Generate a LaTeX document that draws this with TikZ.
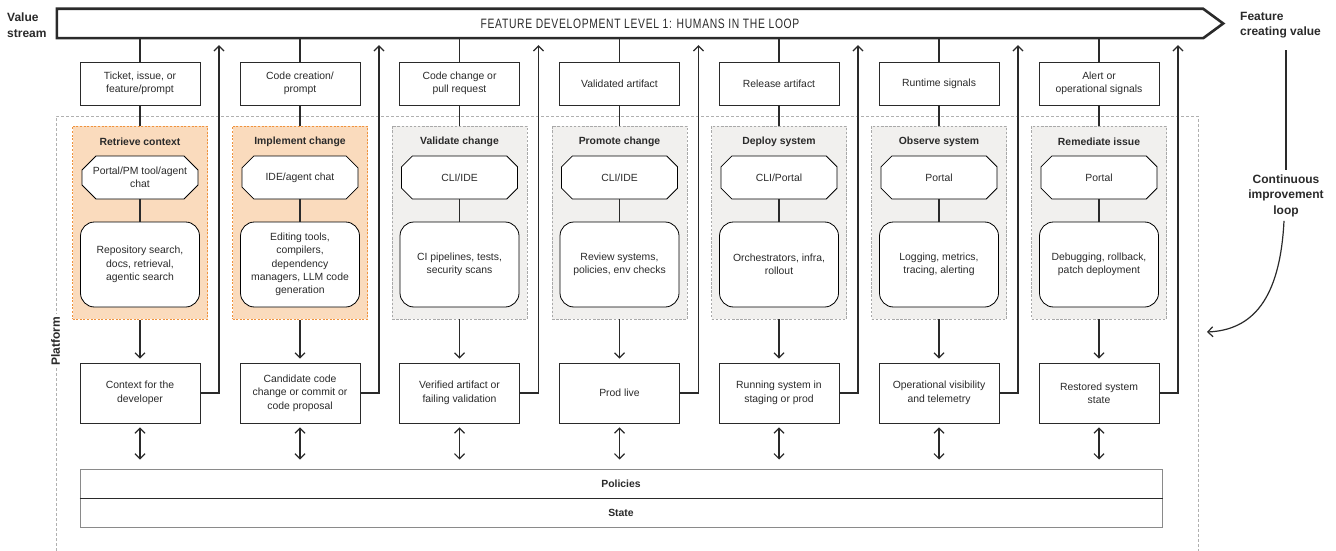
\documentclass[tikz,border=0pt]{standalone}
\usepackage{fontspec}
\setmainfont{Liberation Sans}
\newfontfamily\condfont[FakeStretch=0.76,LetterSpace=5]{Liberation Sans}
\usetikzlibrary{arrows.meta,shapes.misc,calc}
\definecolor{ink}{HTML}{2A2A2A}
\definecolor{orfill}{HTML}{FADBBD}
\definecolor{ordraw}{HTML}{F0923C}
\definecolor{gyfill}{HTML}{F1F0EE}
\definecolor{gydraw}{HTML}{A9A9A9}
\definecolor{pfdraw}{HTML}{B0B0B0}
\definecolor{boxgray}{HTML}{8A8A8A}

\tikzset{
  every node/.style={text=ink, font=\fontsize{10.4}{13.4}\selectfont, align=center, inner sep=0pt},
  conn/.style={draw=ink, line width=1.2pt},
  arr/.style={-{Straight Barb[length=5pt,width=10pt]}},
  dbl/.style={{Straight Barb[length=5pt,width=10pt]}-{Straight Barb[length=5pt,width=10pt]}},
  topbox/.style={draw=ink, line width=0.8pt, fill=white, minimum width=120pt, minimum height=43pt},
  resbox/.style={draw=ink, line width=0.8pt, fill=white, minimum width=120pt, minimum height=60pt},
  toolbox/.style={chamfered rectangle, chamfered rectangle xsep=7pt, chamfered rectangle ysep=7pt,
     draw=black, line width=0.8pt, fill=white, minimum width=116pt, minimum height=43pt},
  sysbox/.style={draw=black, line width=0.8pt, fill=white, rounded corners=14pt, minimum width=119pt, minimum height=85pt},
  stageor/.style={fill=orfill, draw=ordraw, line width=1pt, dash pattern=on 2pt off 1.6pt, minimum width=135pt, minimum height=193pt},
  stagegy/.style={fill=gyfill, draw=gydraw, line width=0.7pt, dash pattern=on 2.5pt off 1.6pt, minimum width=135pt, minimum height=193pt},
  titletext/.style={font=\bfseries\fontsize{10.4}{12}\selectfont},
  sidelabel/.style={font=\bfseries\fontsize{12}{15.5}\selectfont},
  platline/.style={draw=pfdraw, line width=0.8pt, dash pattern=on 3pt off 2pt},
  bandbox/.style={draw=boxgray, line width=1pt, fill=white, minimum width=1082pt, minimum height=29pt, font=\bfseries\fontsize{10.4}{12}\selectfont},
}

\newcommand\stagecolumn[8]{%
  \node[topbox] (top#1) at (#2,83.5) {#3};
  \node[stage#8] (stage#1) at (#2,222.5) {};
  \node[titletext] (title#1) at (#2,142) {#4};
  \node[toolbox] (tool#1) at (#2,177.5) {#5};
  \node[sysbox] (sys#1) at (#2,264.5) {#6};
  \node[resbox] (res#1) at (#2,393) {#7};
  \coordinate (up#1) at (#2+79,0);
  \draw[conn] (top#1.north) -- (top#1.north |- bar.south);
  \draw[conn] (top#1.south) -- (stage#1.north);
  \draw[conn] (tool#1.south) -- (sys#1.north);
  \draw[conn,arr,shorten >=4pt] (stage#1.south) -- (res#1.north);
  \draw[conn,arr,shorten >=7pt] (res#1.east) -| (up#1 |- bar.south);
  \draw[conn,dbl,shorten <=4pt,shorten >=9pt] (res#1.south) -- (res#1.south |- pol.north);
}

\begin{document}
\begin{tikzpicture}[x=1pt,y=-1pt]
\useasboundingbox (0,0) rectangle (1336,551);

% platform dashed frame
\draw[platline] (56,551) -- (56,116) -- (1198,116) -- (1198,551);
\node[sidelabel, fill=white, rotate=90, inner sep=3pt] (platform) at (55.5,341) {Platform};

% value stream bar
\node[minimum width=1166pt, minimum height=29pt, font=\condfont\fontsize{13.6}{13.6}\selectfont] (bar) at (640,23.5)
  {FEATURE DEVELOPMENT LEVEL 1: HUMANS IN THE LOOP};
\draw[ink, line width=2.6pt, line join=miter]
  (bar.south west) -- (bar.north west) -- ([xshift=-20pt]bar.north east) -- (bar.east)
  -- ([xshift=-20pt]bar.south east) -- cycle;

\node[sidelabel, align=left, anchor=west] (vs) at (7,25) {Value\\stream};
\node[sidelabel, align=left, anchor=west] (fcv) at (1240,25) {Feature\\creating value};
\node[sidelabel] (cil) at (1286,195.5) {Continuous\\improvement\\loop};
\coordinate (loopend) at (1207,332);
\draw[conn, shorten <=12pt, shorten >=4pt] (cil.north |- fcv.south) -- (cil.north);
\draw[conn, arr] ([xshift=-2pt,yshift=-4pt]cil.south) .. controls (1280,300) and (1252,330) .. (loopend);

% policies and state
\node[bandbox] (pol) at (621,483.5) {Policies};
\node[bandbox] (state) at (621,512.5) {State};
\draw[ink, line width=1pt] (pol.south west) -- (pol.south east);

\stagecolumn{1}{140}{Ticket, issue, or\\feature/prompt}{Retrieve context}{Portal/PM tool/agent\\chat}{Repository search,\\docs, retrieval,\\agentic search}{Context for the\\developer}{or}
\stagecolumn{2}{300}{Code creation/\\prompt}{Implement change}{IDE/agent chat}{Editing tools,\\compilers,\\dependency\\managers, LLM code\\generation}{Candidate code\\change or commit or\\code proposal}{or}
\stagecolumn{3}{459.5}{Code change or\\pull request}{Validate change}{CLI/IDE}{CI pipelines, tests,\\security scans}{Verified artifact or\\failing validation}{gy}
\stagecolumn{4}{619.5}{Validated artifact}{Promote change}{CLI/IDE}{Review systems,\\policies, env checks}{Prod live}{gy}
\stagecolumn{5}{779}{Release artifact}{Deploy system}{CLI/Portal}{Orchestrators, infra,\\rollout}{Running system in\\staging or prod}{gy}
\stagecolumn{6}{939}{Runtime signals}{Observe system}{Portal}{Logging, metrics,\\tracing, alerting}{Operational visibility\\and telemetry}{gy}
\stagecolumn{7}{1099}{Alert or\\operational signals}{Remediate issue}{Portal}{Debugging, rollback,\\patch deployment}{Restored system\\state}{gy}
\end{tikzpicture}
\end{document}
